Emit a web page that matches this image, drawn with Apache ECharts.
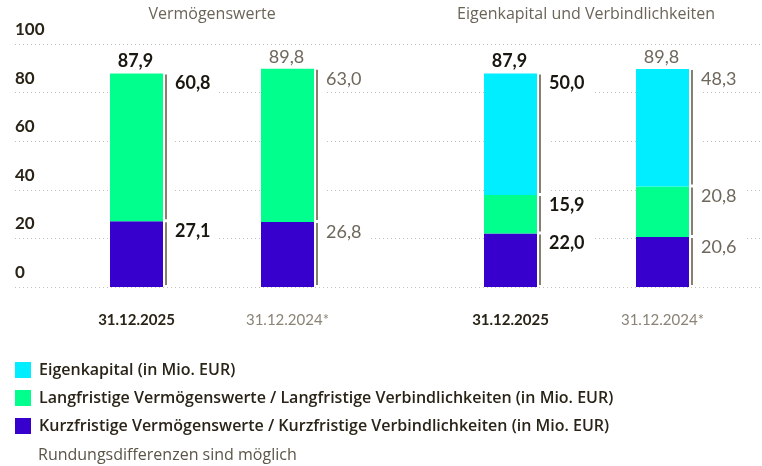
<!DOCTYPE html>
<html>
<head>
<meta charset="utf-8">
<script src="https://cdn.jsdelivr.net/npm/echarts@6/dist/echarts.min.js"></script>
<style>
  html, body { margin: 0; padding: 0; background: #fff; }
  #chart { width: 762px; height: 466px; }
</style>
</head>
<body>
<div id="chart"></div>
<script>
// ---- data ----
const dates = ['31.12.2025', '31.12.2024*'];
const panelTitles = ['Vermögenswerte', 'Eigenkapital und Verbindlichkeiten'];
const seriesNames = [
    'Eigenkapital (in Mio. EUR)',
    'Langfristige Vermögenswerte / Langfristige Verbindlichkeiten (in Mio. EUR)',
    'Kurzfristige Vermögenswerte / Kurzfristige Verbindlichkeiten (in Mio. EUR)',
];
const footnote = 'Rundungsdifferenzen sind möglich';

// Vermögenswerte
const assetsShort = [27.1, 26.8];
const assetsLong = [60.8, 63.0];
const assetsTotal = [87.9, 89.8];

// Eigenkapital und Verbindlichkeiten
const liabShort = [22.0, 20.6];
const liabLong = [15.9, 20.8];
const equity = [50.0, 48.3];
const liabTotal = [87.9, 89.8];

// ---- style ----
const FONT = 'Lato, "Noto Sans", sans-serif';
const TEXT_FONT = '"Open Sans", "Noto Sans", sans-serif';
const COLORS = { equity: '#00EEFF', long: '#00FF8C', short: '#3700CC' };
const DARK = '#1a1610';
const GREY = '#6e675c';
const BAR_W = 53;

const fmt = v => v.toFixed(1).replace('.', ',');

const valueRich = {
    b: { fontFamily: FONT, fontSize: 18, fontWeight: 'bold', color: DARK },
    n: { fontFamily: FONT, fontSize: 18, fontWeight: 'normal', color: GREY },
};
const styled = (i, txt) => (i === 0 ? `{b|${txt}}` : `{n|${txt}}`);

function segLabel() {
    return {
        show: true,
        position: ['100%', 0],
        offset: [10, -1],
        align: 'left',
        verticalAlign: 'top',
        backgroundColor: '#fff',
        padding: [2, 8, 4, 2],
        formatter: p => styled(p.dataIndex, fmt(p.value)),
        rich: valueRich,
    };
}

function barSeries(name, data, gridIdx, color) {
    return {
        name,
        type: 'bar',
        stack: 'g' + gridIdx,
        xAxisIndex: gridIdx,
        yAxisIndex: gridIdx,
        barWidth: BAR_W,
        data,
        itemStyle: { color },
        label: segLabel(),
        silent: true,
    };
}

// bracket line + white gap to the right of each segment
function bracketSeries(gridIdx, stacks) {
    const data = [];
    dates.forEach((d, i) => {
        let base = 0;
        stacks.forEach(arr => {
            data.push([i, base, base + arr[i]]);
            base += arr[i];
        });
    });
    return {
        type: 'custom',
        xAxisIndex: gridIdx,
        yAxisIndex: gridIdx,
        silent: true,
        z: 3,
        encode: { x: 0, y: [1, 2] },
        data,
        renderItem(params, api) {
            const lo = api.coord([api.value(0), api.value(1)]);
            const hi = api.coord([api.value(0), api.value(2)]);
            const right = lo[0] + BAR_W / 2;
            const x = right + 3;
            return {
                type: 'group',
                children: [
                    { type: 'rect', shape: { x: right, y: hi[1], width: 12, height: lo[1] - hi[1] - 1 }, style: { fill: '#fff' } },
                    { type: 'line', shape: { x1: x, y1: hi[1] + 1, x2: x, y2: lo[1] - 2 }, style: { stroke: '#877f70', lineWidth: 2 } },
                ],
            };
        },
    };
}

function totalSeries(gridIdx, totals) {
    return {
        type: 'custom',
        xAxisIndex: gridIdx,
        yAxisIndex: gridIdx,
        silent: true,
        z: 4,
        encode: { x: 0, y: 1 },
        data: totals.map((t, i) => [i, t]),
        renderItem(params, api) {
            const i = api.value(0);
            const p = api.coord([i, api.value(1)]);
            return {
                type: 'text',
                x: p[0] - 1,
                y: p[1] - 3,
                style: {
                    text: fmt(api.value(1)),
                    align: 'center',
                    verticalAlign: 'bottom',
                    fontFamily: FONT,
                    fontSize: 18,
                    fontWeight: i === 0 ? 'bold' : 'normal',
                    fill: i === 0 ? DARK : GREY,
                },
            };
        },
    };
}

const GRID_TOP = 44;
const GRID_BOTTOM = 179;

const panelX = (idx) => ({
    type: 'category',
    gridIndex: idx,
    data: dates,
    axisLine: { show: false },
    axisTick: { show: false },
    splitLine: { show: false },
    axisLabel: {
        margin: 26,
        formatter: (v, i) => styled(i, v),
        rich: {
            b: { fontFamily: FONT, fontSize: 15, fontWeight: 'bold', color: '#2a2418' },
            n: { fontFamily: FONT, fontSize: 15, fontWeight: 'normal', color: '#8a8376' },
        },
    },
});
const hiddenY = (idx) => ({ type: 'value', gridIndex: idx, min: 0, max: 100, show: false });

const titleStyle = { fontFamily: TEXT_FONT, fontSize: 16, fontWeight: 'normal', color: '#6b6458' };

const chart = echarts.init(document.getElementById('chart'));
chart.setOption({
    animation: false,
    backgroundColor: '#fff',
    title: [
        { text: panelTitles[0], left: 212, textAlign: 'center', top: 6, padding: 0, textStyle: titleStyle },
        { text: panelTitles[1], left: 586, textAlign: 'center', top: 6, padding: 0, textStyle: titleStyle },
        { text: footnote, left: 38, top: 447, padding: 0, textStyle: { ...titleStyle, color: '#5b5447' } },
    ],
    legend: {
        orient: 'vertical',
        left: 15,
        top: 362,
        padding: 0,
        itemWidth: 16,
        itemHeight: 16,
        itemGap: 12,
        icon: 'rect',
        selectedMode: false,
        data: seriesNames,
        textStyle: { fontFamily: TEXT_FONT, fontSize: 16, fontWeight: 600, color: '#2a2418', padding: [0, 0, 0, 3] },
    },
    grid: [
        { left: 15, right: 0, top: GRID_TOP, bottom: GRID_BOTTOM },
        { left: 61, width: 302, top: GRID_TOP, bottom: GRID_BOTTOM },
        { left: 434.5, width: 304, top: GRID_TOP, bottom: GRID_BOTTOM },
    ],
    xAxis: [
        { type: 'value', gridIndex: 0, min: 0, max: 1, show: false },
        panelX(1),
        panelX(2),
    ],
    yAxis: [
        {
            type: 'value',
            gridIndex: 0,
            min: 0,
            max: 100,
            interval: 20,
            axisLine: { show: false },
            axisTick: { show: false },
            splitLine: { lineStyle: { color: '#c4bfb6', type: [1, 3], width: 1 } },
            axisLabel: {
                inside: true,
                margin: 0,
                verticalAlign: 'bottom',
                padding: [0, 0, 6, 0],
                fontFamily: FONT,
                fontSize: 17,
                fontWeight: 'bold',
                color: '#2a2418',
            },
        },
        hiddenY(1),
        hiddenY(2),
    ],
    series: [
        barSeries(seriesNames[2], assetsShort, 1, COLORS.short),
        barSeries(seriesNames[1], assetsLong, 1, COLORS.long),
        bracketSeries(1, [assetsShort, assetsLong]),
        totalSeries(1, assetsTotal),

        barSeries(seriesNames[2], liabShort, 2, COLORS.short),
        barSeries(seriesNames[1], liabLong, 2, COLORS.long),
        barSeries(seriesNames[0], equity, 2, COLORS.equity),
        bracketSeries(2, [liabShort, liabLong, equity]),
        totalSeries(2, liabTotal),
    ],
});
</script>
</body>
</html>
